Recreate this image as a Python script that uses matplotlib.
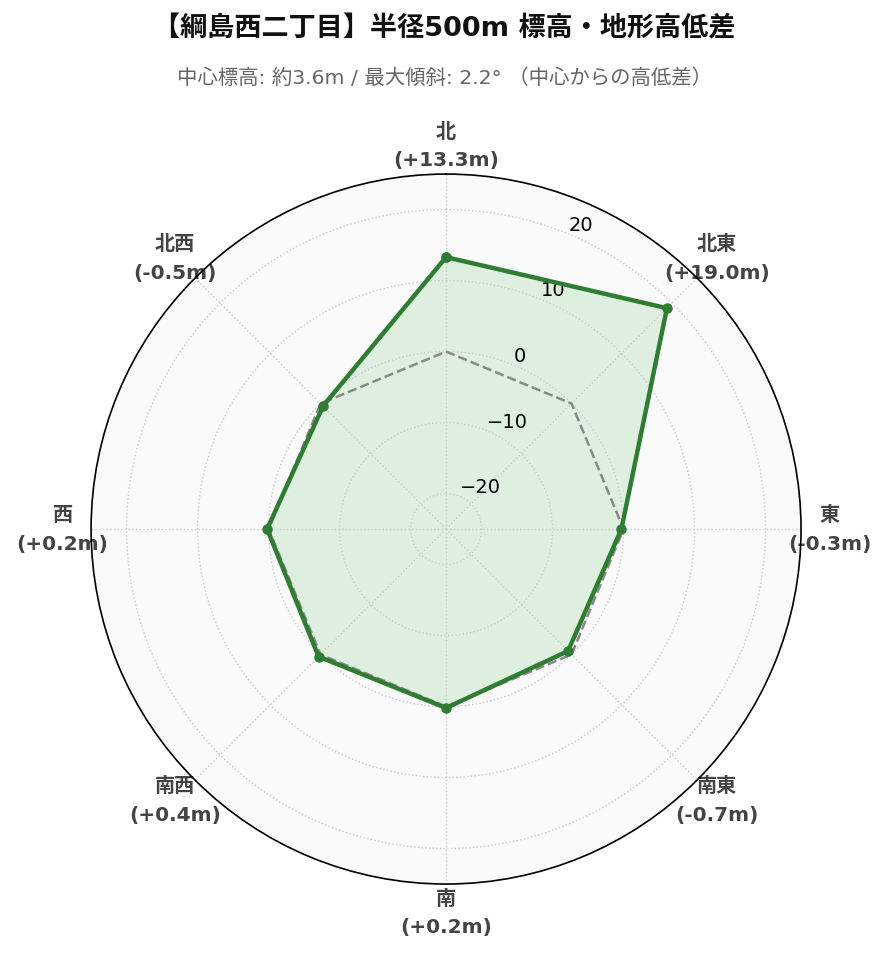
import numpy as np
import matplotlib
matplotlib.use("Agg")
import matplotlib.pyplot as plt

plt.rcParams['font.family'] = ['DejaVu Sans', 'Noto Sans CJK JP']

directions = ['北', '北東', '東', '南東', '南', '南西', '西', '北西']
diffs = [13.3, 19.0, -0.3, -0.7, 0.2, 0.4, 0.2, -0.5]
baseline = [0, 0, 0, 0, 0, 0, 0, 0]
r_ticks = [-20, -10, 0, 10, 20]
title = '【綱島西二丁目】半径500m 標高・地形高低差'
subtitle = '中心標高: 約3.6m / 最大傾斜: 2.2° （中心からの高低差）'

fig = plt.figure(figsize=(8.89, 9.62), dpi=100)
ax = fig.add_axes([0.1024, 0.080, 0.7987, 0.738], projection='polar')
ax.set_theta_zero_location('N')
ax.set_theta_direction(-1)
ax.set_facecolor('#fafafa')

n = len(directions)
theta = np.arange(n) * 2 * np.pi / n
tc = np.append(theta, theta[0])
dc = np.append(diffs, diffs[0])
bc = np.append(baseline, baseline[0])

ax.plot(tc, bc, linestyle='--', color='#888888', linewidth=1.8, zorder=2)
ax.fill(tc, dc, color='#c8e6c9', alpha=0.55, zorder=1)
ax.plot(tc, dc, color='#2e7d32', linewidth=3.2, marker='o', markersize=6.5, zorder=3)

ax.set_ylim(-25, 25)
ax.set_yticks(r_ticks)
ax.set_yticklabels([f'{v}'.replace('-', '\u2212') for v in r_ticks], fontsize=14)
ax.set_rlabel_position(22.5)

ax.set_xticks(theta)
labels = [f'{d}\n({v:+.1f}m)' for d, v in zip(directions, diffs)]
ax.set_xticklabels(labels, fontsize=14.5, fontweight='bold', color='#444444',
                   linespacing=1.65)
ax.tick_params(axis='x', pad=10)

ax.grid(True, color='#cccccc', linestyle=':', linewidth=1)
ax.spines['polar'].set_color('black')
ax.spines['polar'].set_linewidth(1.2)

fig.text(0.5, 0.969, title, ha='center', va='center', fontsize=19.5, fontweight='bold', color='#111111')
fig.text(0.5, 0.919, subtitle, ha='center', va='center', fontsize=14.7, color='#666666')

fig.savefig('out.png', dpi=100, facecolor='white')
